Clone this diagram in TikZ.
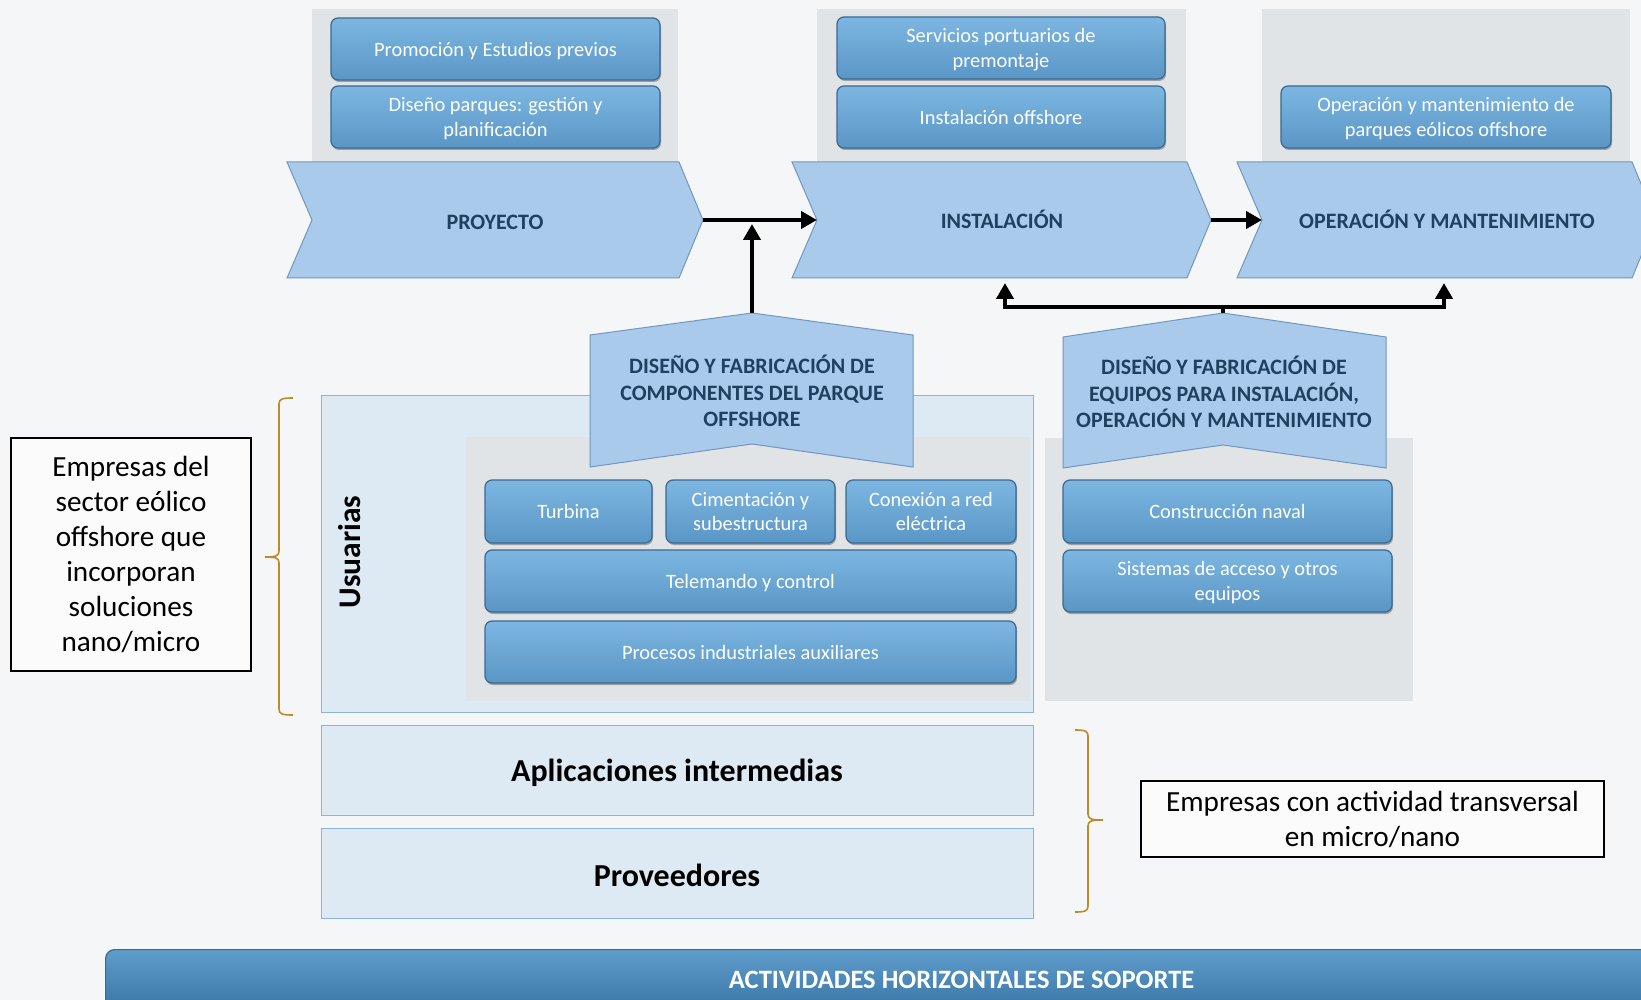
\documentclass[tikz,border=0pt]{standalone}
\usepackage{fontspec}
\setmainfont{Carlito}
\usetikzlibrary{arrows.meta,shadows}

\definecolor{bgcol}{HTML}{F5F6F7}
\definecolor{chevfill}{HTML}{A9CAEA}
\definecolor{chevline}{HTML}{7297BE}
\definecolor{chevtext}{HTML}{213F5E}
\definecolor{boxtop}{HTML}{7DB6E1}
\definecolor{boxbot}{HTML}{5A96C6}
\definecolor{boxline}{HTML}{3B6990}
\definecolor{panelblue}{HTML}{DDE9F3}
\definecolor{panelline}{HTML}{8DB3DA}
\definecolor{panelgray}{HTML}{E1E4E6}
\definecolor{bracecol}{HTML}{BA8C2C}
\definecolor{bartop}{HTML}{5F9DCC}
\definecolor{barbot}{HTML}{3B76A5}

\tikzset{
  stage/.style={fill=chevfill, draw=chevline, line width=1pt},
  stagetext/.style={text=chevtext, font=\fontsize{22}{26.3}\selectfont\bfseries, align=center},
  bluebox/.style={rounded corners=7pt, draw=boxline, line width=1.2pt,
    top color=boxtop, bottom color=boxbot, text=white, align=center, inner sep=0pt,
    font=\fontsize{20.4}{24.5}\selectfont, text depth=0pt,
    drop shadow={shadow xshift=1pt, shadow yshift=-2pt, fill=black, opacity=0.3}},
  panel/.style={fill=panelblue, draw=panelline, line width=1pt},
  grayback/.style={fill=panelgray},
  flow/.style={line width=4pt, -{Triangle[length=16pt,width=17pt]}},
  curly/.style={draw=bracecol, line width=1.6pt},
  note/.style={draw=black, line width=1.5pt, fill=white!60!bgcol, align=center,
    font=\fontsize{29.2}{35}\selectfont}
}

\begin{document}
\begin{tikzpicture}[x=1pt, y=-1pt]
\useasboundingbox (0,0) rectangle (1641,1000);
\clip (0,0) rectangle (1641,1000);
\fill[bgcol] (0,0) rectangle (1641,1000);

% gray backs of the stages
\fill[grayback] (312,9) rectangle (678,162);
\fill[grayback] (817,9) rectangle (1186,162);
\fill[grayback] (1262,9) rectangle (1630,162);

% stages
\draw[stage] (287,162) -- (679,162) -- (703,220) -- (679,278) -- (287,278) -- (312,220) -- cycle;
\node[stagetext] (proy) at (495,222) {PROYECTO};
\draw[stage] (792,162) -- (1187,162) -- (1211,220) -- (1187,278) -- (792,278) -- (817,220) -- cycle;
\node[stagetext] (inst) at (1002,219.5) {INSTALACIÓN};
\draw[stage] (1237,162) -- (1632,162) -- (1656,220) -- (1632,278) -- (1237,278) -- (1262,220) -- cycle;
\node[stagetext] (oper) at (1447,219.5) {OPERACIÓN Y MANTENIMIENTO};
\coordinate (proytip) at (703,220);
\coordinate (instin) at (817,220);
\coordinate (insttip) at (1211,220);
\coordinate (operin) at (1262,220);
\coordinate (instfoot) at (1005,283);
\coordinate (operfoot) at (1444,283);

% activities of the stages
\node[bluebox, minimum width=329pt, minimum height=62pt] (promo) at (495.5,49) {Promoción y Estudios previos};
\node[bluebox, minimum width=329pt, minimum height=62pt] (disparq) at (495.5,117) {Diseño parques: gestión y\\planificación};
\node[bluebox, minimum width=328pt, minimum height=62pt] (serv) at (1001,48) {Servicios portuarios de\\premontaje};
\node[bluebox, minimum width=328pt, minimum height=62pt] (instoff) at (1001,117) {Instalación offshore};
\node[bluebox, minimum width=330pt, minimum height=62pt] (opparq) at (1446,117) {Operación y mantenimiento de\\parques eólicos offshore};

% usuarias
\draw[panel] (321,395) rectangle (1033,712);
\fill[grayback] (466,437) rectangle (1030,701);
\node[rotate=90, font=\fontsize{31.5}{31.5}\selectfont\bfseries] (usu) at (350,552) {Usuarias};
\draw[stage] (590,335) -- (752,313) -- (913,335) -- (913,467) -- (752,444) -- (590,467) -- cycle;
\node[stagetext] (comp) at (752,391) {DISEÑO Y FABRICACIÓN DE\\COMPONENTES DEL PARQUE\\OFFSHORE};
\coordinate (comptop) at (752,313);
\coordinate (join) at (752,224);
\node[bluebox, minimum width=167pt, minimum height=63pt] (turb) at (568.5,511.5) {Turbina};
\node[bluebox, minimum width=169pt, minimum height=63pt] (cim) at (750.5,511.5) {Cimentación y\\subestructura};
\node[bluebox, minimum width=170pt, minimum height=63pt] (red) at (931,511.5) {Conexión a red\\eléctrica};
\node[bluebox, minimum width=531pt, minimum height=62pt] (tele) at (750.5,581) {Telemando y control};
\node[bluebox, minimum width=531pt, minimum height=62pt] (proc) at (750.5,652) {Procesos industriales auxiliares};

% equipos
\fill[grayback] (1045,438) rectangle (1413,701);
\draw[stage] (1063,337) -- (1223,313) -- (1386,337) -- (1386,468) -- (1223,445) -- (1063,468) -- cycle;
\node[stagetext] (equip) at (1224,392) {DISEÑO Y FABRICACIÓN DE\\EQUIPOS PARA INSTALACIÓN,\\OPERACIÓN Y MANTENIMIENTO};
\coordinate (eqtop) at (1223,313);
\coordinate (busl) at (1005,307);
\coordinate (busr) at (1444,307);
\node[bluebox, minimum width=329pt, minimum height=63pt] (naval) at (1227.5,511.5) {Construcción naval};
\node[bluebox, minimum width=329pt, minimum height=62pt] (acceso) at (1227.5,581) {Sistemas de acceso y otros\\equipos};

% arrows
\draw[flow] (proytip) -- (instin);
\draw[flow] (insttip) -- (operin);
\draw[flow] (comptop) -- (join);
\draw[flow] (eqtop) |- (busl) -- (instfoot);
\draw[flow] (eqtop) |- (busr) -- (operfoot);

% lower layers
\draw[panel] (321,725) rectangle (1033,815);
\node[font=\fontsize{32}{32}\selectfont\bfseries] (apli) at (677,773) {Aplicaciones intermedias};
\draw[panel] (321,828) rectangle (1033,918);
\node[font=\fontsize{32}{32}\selectfont\bfseries] (prov) at (677,875) {Proveedores};

% braces and notes
\draw[curly] (293,398) .. controls (282,398) and (279,399) .. (279,404) -- (279,551)
  .. controls (279,556) and (276,557) .. (265,557) .. controls (276,557) and (279,558) .. (279,563)
  -- (279,709) .. controls (279,714) and (282,715) .. (293,715);
\node[note, minimum width=240pt, minimum height=233pt, inner sep=0pt] (sector) at (131,554.5)
  {Empresas del\\sector eólico\\offshore que\\incorporan\\soluciones\\nano/micro};
\draw[curly] (1075,730) .. controls (1085,730) and (1088,731) .. (1088,736) -- (1088,814)
  .. controls (1088,819) and (1091,820) .. (1103,820) .. controls (1091,820) and (1088,821) .. (1088,826)
  -- (1088,906) .. controls (1088,911) and (1085,912) .. (1075,912);
\node[note, minimum width=463pt, minimum height=76pt, inner sep=0pt] (transv) at (1372.5,819)
  {Empresas con actividad transversal\\en micro/nano};

% support bar
\node[rounded corners=9pt, draw=boxline, line width=1.2pt, top color=bartop, bottom color=barbot,
  anchor=north west, minimum width=1712pt, minimum height=60pt, inner sep=0pt,
  text=white, font=\fontsize{26.5}{26.5}\selectfont\bfseries] (soporte) at (105,949)
  {ACTIVIDADES HORIZONTALES DE SOPORTE};
\end{tikzpicture}
\end{document}
